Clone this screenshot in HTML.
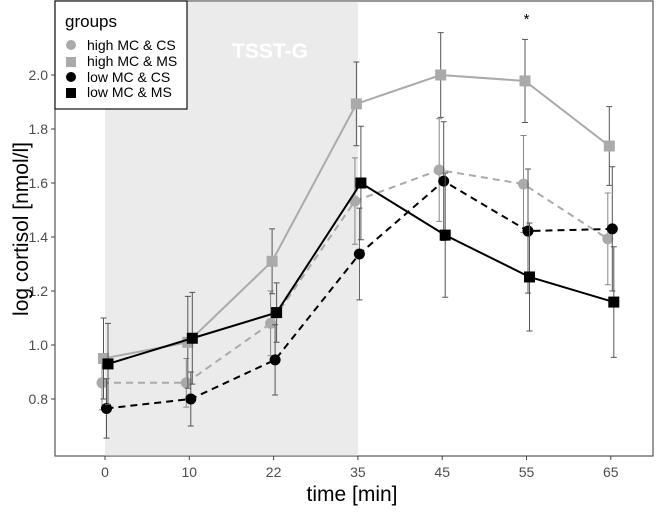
<!DOCTYPE html>
<html><head><meta charset="utf-8"><style>
body{margin:0;background:#fff;font-family:"Liberation Sans",sans-serif}
svg text{font-family:"Liberation Sans",sans-serif}
</style></head><body>
<svg id="chart" width="661" height="507">
<rect x="55" y="1" width="598" height="455" fill="#fff" stroke="#555" stroke-width="1.2"/>
<rect id="shade" y="1.6" height="454" fill="#ebebeb"/>
<text id="shadeLabel" x="270" y="58" font-size="21" font-weight="bold" fill="#fff" text-anchor="middle">TSST-G</text>
<g id="axes"></g>
<g id="series"></g>
<text id="star" y="24" font-size="15" text-anchor="middle">*</text>
<text x="352" y="501" font-size="21" text-anchor="middle">time [min]</text>
<text transform="translate(28,229) rotate(-90)" font-size="21" text-anchor="middle">log cortisol [nmol/l]</text>
<g>
<rect x="55" y="1" width="132" height="108" fill="#fff" stroke="#111" stroke-width="1.2"/>
<text x="65" y="27" font-size="17">groups</text>
<circle cx="71" cy="45" r="5" fill="#aaa"/>
<text x="87" y="50" font-size="14">high MC &amp; CS</text>
<rect x="66" y="57" width="10" height="10" fill="#aaa"/>
<text x="87" y="66" font-size="14">high MC &amp; MS</text>
<circle cx="71" cy="77" r="5" fill="#000"/>
<text x="87" y="82" font-size="14">low MC &amp; CS</text>
<rect x="66" y="88" width="10" height="10" fill="#000"/>
<text x="87" y="97" font-size="14">low MC &amp; MS</text>
</g>
</svg>
<script>
const categories=["0","10","22","35","45","55","65"];
const yTicks=[0.8,1.0,1.2,1.4,1.6,1.8,2.0];
const highCS=[0.86,0.86,1.08,1.533,1.648,1.596,1.393];
const highCSErr=[0.10,0.09,0.12,0.16,0.19,0.18,0.17];
const highMS=[0.95,1.01,1.31,1.893,2.0,1.978,1.737];
const highMSErr=[0.15,0.17,0.12,0.155,0.157,0.154,0.146];
const lowCS=[0.765,0.80,0.945,1.337,1.607,1.422,1.43];
const lowCSErr=[0.11,0.10,0.13,0.17,0.22,0.23,0.23];
const lowMS=[0.93,1.025,1.12,1.60,1.407,1.252,1.159];
const lowMSErr=[0.15,0.17,0.11,0.21,0.23,0.20,0.205];
const shadeRange=[0,3];
const starIndex=5;

const NS="http://www.w3.org/2000/svg";
const xs=i=>105+i*84.3;
const ys=v=>75+(2.0-v)*270;
function mk(tag,attrs,parent){const e=document.createElementNS(NS,tag);for(const k in attrs)e.setAttribute(k,attrs[k]);parent.appendChild(e);return e;}
const sh=document.getElementById('shade');
sh.setAttribute('x',xs(shadeRange[0]));sh.setAttribute('width',xs(shadeRange[1])-xs(shadeRange[0]));
document.getElementById('star').setAttribute('x',xs(starIndex));
const ax=document.getElementById('axes');
yTicks.forEach(t=>{
  const l=mk('line',{x1:51,x2:55,y1:ys(t),y2:ys(t),stroke:'#444'},ax);
  
  
  const tx=mk('text',{x:48,y:ys(t)+5,'font-size':14,fill:'#4d4d4d','text-anchor':'end'},ax);
  tx.textContent=t.toFixed(1);
  
  
});
categories.forEach((c,i)=>{
  const l=mk('line',{x1:xs(i),x2:xs(i),y1:456,y2:460,stroke:'#444'},ax);
  
  
  const tx=mk('text',{x:xs(i),y:477,'font-size':14,fill:'#4d4d4d','text-anchor':'middle'},ax);
  tx.textContent=c;
  
  
});
const sg=document.getElementById('series');
const defs=[
 {name:'high-mc-cs',vals:highCS,err:highCSErr,col:'#aaa',dash:'7,5',shape:'c',dx:-3,ecol:'#888'},
 {name:'high-mc-ms',vals:highMS,err:highMSErr,col:'#aaa',dash:'',shape:'s',dx:-1.5,ecol:'#555'},
 {name:'low-mc-cs',vals:lowCS,err:lowCSErr,col:'#000',dash:'7,5',shape:'c',dx:1.5,ecol:'#555'},
 {name:'low-mc-ms',vals:lowMS,err:lowMSErr,col:'#000',dash:'',shape:'s',dx:3,ecol:'#555'}];
defs.forEach(d=>{
  const g=mk('g',{},sg);
  
  
  d.vals.forEach((v,i)=>{
    const x=xs(i)+d.dx,t=ys(v+d.err[i]),b=ys(v-d.err[i]);
    const e=mk('path',{d:`M${x-3},${t}H${x+3}M${x},${t}V${b}M${x-3},${b}H${x+3}`,stroke:d.ecol,'stroke-width':1,fill:'none'},g);
    
    
  });
  const pts=d.vals.map((v,i)=>(xs(i)+d.dx)+','+ys(v)).join(' ');
  const pl=mk('polyline',{points:pts,fill:'none',stroke:d.col,'stroke-width':2,'stroke-dasharray':d.dash},g);
  
  
  d.vals.forEach((v,i)=>{
    const x=xs(i)+d.dx,y=ys(v);
    let m;
    if(d.shape==='c') m=mk('circle',{cx:x,cy:y,r:5.5,fill:d.col},g);
    else m=mk('rect',{x:x-5.5,y:y-5.5,width:11,height:11,fill:d.col},g);
    
    
  });
});
</script>
</body></html>
